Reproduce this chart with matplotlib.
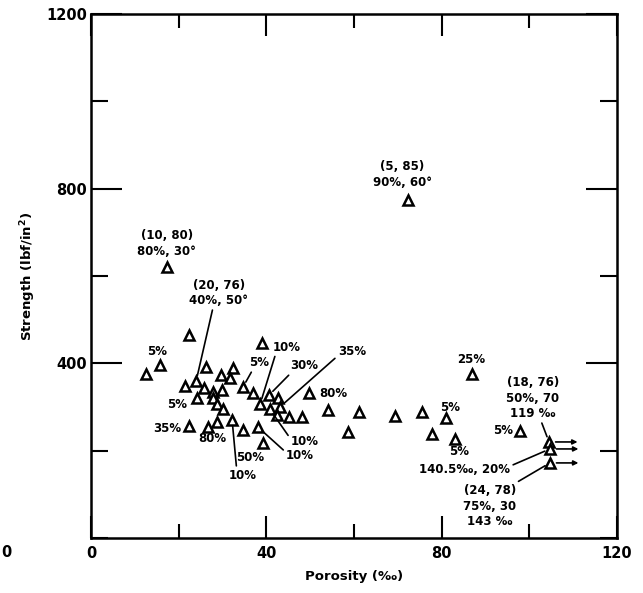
import matplotlib
matplotlib.use("Agg")
import matplotlib.pyplot as plt
from matplotlib.ticker import MultipleLocator

# porosity (per mille) and strength (lbf/in^2)
porosity = [17.3, 72.3, 22.4, 39.0, 15.7, 12.5, 26.2, 32.4, 29.7, 31.7,
            21.4, 24.0, 25.8, 34.7, 37.0, 40.6, 42.7, 38.6, 43.1, 40.8,
            42.4, 45.2, 48.1, 49.7, 54.1, 61.1, 58.6, 69.4, 75.5, 81.0,
            77.8, 83.0, 86.9, 97.9, 104.5, 104.7, 104.7, 24.2, 27.8, 29.9,
            27.8, 28.7, 30.1, 22.4, 26.7, 28.7, 32.2, 34.7, 38.1, 39.2]
strength = [621, 774, 465, 447, 396, 376, 392, 389, 373, 366,
            348, 360, 343, 346, 332, 327, 321, 307, 300, 295,
            282, 277, 277, 332, 293, 289, 243, 279, 289, 275,
            238, 227, 376, 245, 220, 204, 172, 321, 334, 339,
            321, 307, 295, 256, 254, 266, 270, 247, 254, 218]

# points whose true value is off the chart to the right
offscale = [34, 35, 36]

# labels: text, text position (data), index of the point it points to
labels = [
    ("(10, 80)\n80%, 30°", 17.3, 674, None),
    ("(5, 85)\n90%, 60°", 71.0, 833, None),
    ("(20, 76)\n40%, 50°", 29.2, 561, 11),
    ("5%", 15.1, 426, None),
    ("5%", 19.6, 305, None),
    ("35%", 17.3, 250, None),
    ("80%", 27.6, 229, None),
    ("10%", 34.5, 144, 46),
    ("50%", 36.3, 185, None),
    ("10%", 47.7, 190, 48),
    ("10%", 48.8, 220, 19),
    ("5%", 38.3, 401, 13),
    ("10%", 44.7, 437, 17),
    ("30%", 48.6, 394, 15),
    ("35%", 59.5, 426, 18),
    ("80%", 55.2, 332, None),
    ("25%", 86.7, 408, None),
    ("5%", 81.9, 300, None),
    ("5%", 84.0, 197, None),
    ("5%", 94.0, 247, None),
    ("(18, 76)\n50%, 70\n119 ‰", 100.8, 320, 34),
    ("140.5‰, 20%", 85.3, 156, 35),
    ("(24, 78)\n75%, 30\n143 ‰", 91.0, 73, 36),
]
# where on the label box the leader line starts
relpos = {2: (0.4, 0), 7: (0.3, 1), 9: (0, 0.7), 10: (0, 0.7), 11: (0.2, 0),
          12: (0.1, 0), 13: (0.05, 0), 14: (0, 0.2), 20: (0.65, 0),
          21: (1, 0.8), 22: (0.95, 1)}

fig = plt.figure(figsize=(6.43, 5.93), dpi=100)
ax = fig.add_axes([0.1415, 0.0927, 0.818, 0.8837])

ax.plot(porosity, strength, linestyle="none", marker="^", ms=7.5,
        mfc="white", mec="black", mew=1.8)

for i, (txt, tx, ty, target) in enumerate(labels):
    if target is None:
        ax.text(tx, ty, txt, ha="center", va="center", fontsize=8.5,
                fontweight="bold", linespacing=1.25)
    else:
        ax.annotate(txt, xy=(porosity[target], strength[target]), xytext=(tx, ty),
                    ha="center", va="center", fontsize=8.5, fontweight="bold",
                    linespacing=1.25,
                    arrowprops=dict(arrowstyle="-", color="black", lw=1.2,
                                    shrinkA=0, shrinkB=4,
                                    relpos=relpos.get(i, (0.5, 0.5))))

for k in offscale:
    ax.annotate("", xy=(porosity[k] + 6.5, strength[k]),
                xytext=(porosity[k] + 1.5, strength[k]),
                arrowprops=dict(arrowstyle="-|>", color="black", lw=1.2,
                                mutation_scale=7, shrinkA=0, shrinkB=0))

ax.set_xlim(0, 120)
ax.set_ylim(0, 1200)
ax.xaxis.set_major_locator(MultipleLocator(40))
ax.xaxis.set_minor_locator(MultipleLocator(20))
ax.yaxis.set_major_locator(MultipleLocator(400))
ax.yaxis.set_minor_locator(MultipleLocator(200))
ax.set_yticks([400, 800, 1200])
ax.set_yticklabels(["400", "800", "1200"])

ax.tick_params(axis="x", which="major", direction="in", length=16, width=1.5,
               top=True, labelsize=10.5, pad=6)
ax.tick_params(axis="x", which="minor", direction="in", length=10, width=1.5,
               top=True)
ax.tick_params(axis="y", which="major", direction="in", length=22, width=1.5,
               right=True, labelsize=10.5, pad=3)
ax.tick_params(axis="y", which="minor", direction="in", length=12, width=1.5,
               right=True)
for lab in ax.get_xticklabels() + ax.get_yticklabels():
    lab.set_fontweight("bold")
for s in ax.spines.values():
    s.set_linewidth(1.8)

ax.set_xlabel("Porosity (‰)", fontsize=9.5, fontweight="bold", labelpad=6)
ax.set_ylabel("Strength (lbf/in$^\\mathbf{2}$)", fontsize=9.5, fontweight="bold",
              labelpad=6)

# stray zero at the left edge of the scan
fig.text(0.002, 0.069, "0", fontsize=10.5, fontweight="bold", ha="left",
         va="center")

fig.savefig("out.png", dpi=100)
